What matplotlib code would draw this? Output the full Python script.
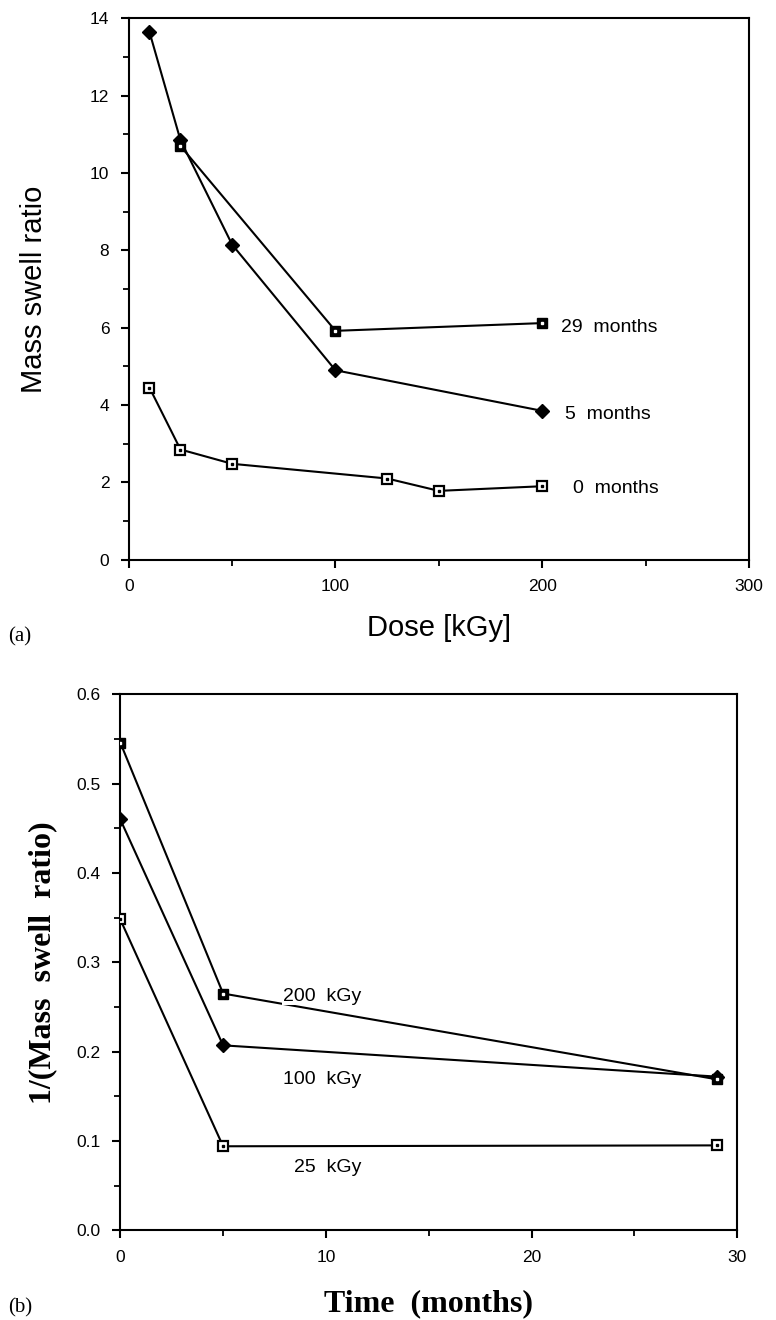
import matplotlib.pyplot as plt
from matplotlib.ticker import MultipleLocator

plt.rcParams['font.family'] = 'Liberation Sans'

# (a) mass swell ratio against dose
dose_5m = [10, 25, 50, 100, 200]
swell_5m = [13.65, 10.85, 8.15, 4.9, 3.85]
dose_29m = [25, 100, 200]
swell_29m = [10.7, 5.92, 6.12]
dose_0m = [10, 25, 50, 125, 150, 200]
swell_0m = [4.45, 2.85, 2.48, 2.1, 1.78, 1.9]

# (b) inverse swell ratio against storage time
months = [0, 5, 29]
inv_200 = [0.546, 0.265, 0.169]
inv_100 = [0.46, 0.207, 0.172]
inv_25 = [0.348, 0.094, 0.095]

fig = plt.figure(figsize=(7.76, 13.2), dpi=100)
ax1 = fig.add_axes([0.166, 0.576, 0.799, 0.410])
ax2 = fig.add_axes([0.155, 0.068, 0.795, 0.406])

lw = 1.5


def open_sq(ax, x, y):
    ax.plot(x, y, color='black', lw=lw, marker='s', ms=6.5, mfc='white',
            mec='black', mew=1.6, zorder=3)
    ax.plot(x, y, ls='none', marker='s', ms=1.6, color='black', zorder=4)


def filled_sq(ax, x, y):
    ax.plot(x, y, color='black', lw=lw, marker='s', ms=6.5, mfc='black',
            mec='black', zorder=3)
    ax.plot(x, y, ls='none', marker='s', ms=1.6, color='white', zorder=4)


def diamond(ax, x, y):
    ax.plot(x, y, color='black', lw=lw, marker='D', ms=7, mfc='black',
            mec='black', zorder=3)


# top panel
diamond(ax1, dose_5m, swell_5m)
filled_sq(ax1, dose_29m, swell_29m)
open_sq(ax1, dose_0m, swell_0m)

ax1.text(209, 6.0, '29  months', fontsize=14, va='center')
ax1.text(211, 3.75, '5  months', fontsize=14, va='center')
ax1.text(215, 1.83, '0  months', fontsize=14, va='center')

ax1.set_xlim(0, 300)
ax1.set_ylim(0, 14)
ax1.xaxis.set_major_locator(MultipleLocator(100))
ax1.xaxis.set_minor_locator(MultipleLocator(50))
ax1.yaxis.set_major_locator(MultipleLocator(2))
ax1.yaxis.set_minor_locator(MultipleLocator(1))
ax1.set_xlabel('Dose [kGy]', fontsize=21, labelpad=14)
ax1.set_ylabel('Mass swell ratio', fontsize=21, labelpad=30)

# bottom panel
filled_sq(ax2, months, inv_200)
diamond(ax2, months, inv_100)
open_sq(ax2, months, inv_25)

ax2.text(7.9, 0.262, '200  kGy', fontsize=14, va='center', zorder=5,
         bbox=dict(facecolor='white', edgecolor='none', pad=0.5))
ax2.text(7.9, 0.169, '100  kGy', fontsize=14, va='center')
ax2.text(8.45, 0.070, '25  kGy', fontsize=14, va='center')

ax2.set_xlim(0, 30)
ax2.set_ylim(0, 0.6)
ax2.xaxis.set_major_locator(MultipleLocator(10))
ax2.xaxis.set_minor_locator(MultipleLocator(5))
ax2.yaxis.set_major_locator(MultipleLocator(0.1))
ax2.yaxis.set_minor_locator(MultipleLocator(0.05))
ax2.yaxis.set_major_formatter(plt.FormatStrFormatter('%.1f'))
ax2.set_xlabel('Time  (months)', fontsize=23, family='Liberation Serif',
               fontweight='bold', labelpad=18)
ax2.set_ylabel('1/(Mass  swell  ratio)', fontsize=23, family='Liberation Serif',
               fontweight='bold', labelpad=14)

for ax in (ax1, ax2):
    for s in ax.spines.values():
        s.set_linewidth(1.5)
    ax.tick_params(which='major', direction='out', length=6, width=1.5,
                   labelsize=12.5, pad=8, top=False, right=False)
    ax.tick_params(which='minor', direction='out', length=4, width=1.3,
                   top=False, right=False)

fig.text(0.011, 1 - 637 / 1320, '(a)', fontsize=15, family='Liberation Serif',
         va='center')
fig.text(0.011, 1 - 1308 / 1320, '(b)', fontsize=15, family='Liberation Serif',
         va='center')

fig.savefig('out.png', dpi=100)
